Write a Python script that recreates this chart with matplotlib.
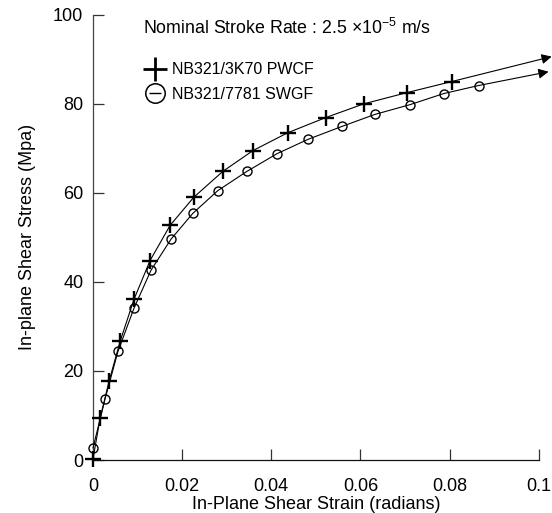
import matplotlib.pyplot as plt
from matplotlib.lines import Line2D
from matplotlib.legend_handler import HandlerTuple

plt.rcParams['font.family'] = ['Liberation Sans', 'DejaVu Sans']
plt.rcParams['mathtext.fontset'] = 'custom'
plt.rcParams['mathtext.rm'] = 'Liberation Sans'

# PWCF (crosses)
pwcf_strain = [0.0, 0.0016, 0.0036, 0.0061, 0.0092, 0.0128, 0.0173, 0.0226,
               0.0291, 0.0359, 0.0437, 0.0522, 0.0608, 0.0704, 0.0805]
pwcf_stress = [0.3, 9.4, 17.7, 26.7, 36.1, 44.8, 52.7, 59.0,
               64.8, 69.5, 73.5, 76.9, 80.0, 82.5, 85.0]
pwcf_arrow_end = (0.1029, 90.6)

# SWGF (circles)
swgf_strain = [0.0, 0.0027, 0.0056, 0.0092, 0.013, 0.0175, 0.0224, 0.028,
               0.0345, 0.0413, 0.0482, 0.0558, 0.0632, 0.0711, 0.0787, 0.0865]
swgf_stress = [2.7, 13.7, 24.4, 34.1, 42.6, 49.6, 55.4, 60.5,
               64.8, 68.8, 72.0, 74.9, 77.6, 79.8, 82.3, 84.1]
swgf_arrow_end = (0.1022, 87.2)

fig = plt.figure(figsize=(5.52, 5.13), dpi=100)
ax = fig.add_axes([0.1685, 0.1033, 0.8075, 0.868])

ax.plot(pwcf_strain, pwcf_stress, color='k', lw=0.8, marker='+', ms=11, mew=1.7,
        clip_on=False, zorder=3)
ax.plot(swgf_strain, swgf_stress, color='k', lw=0.8, marker='o', ms=6.5, mew=1.0,
        mfc='none', clip_on=False, zorder=3)

# arrows carrying the curves past the axis end
for xs, ys, end in [(pwcf_strain, pwcf_stress, pwcf_arrow_end),
                    (swgf_strain, swgf_stress, swgf_arrow_end)]:
    ann = ax.annotate('', xy=end, xytext=(xs[-1], ys[-1]),
                      arrowprops=dict(arrowstyle='-|>', color='k', lw=0.8,
                                      mutation_scale=15, shrinkA=0, shrinkB=0))
    ann.set_annotation_clip(False)

ax.set_xlim(0, 0.1)
ax.set_ylim(0, 100)
ax.set_xticks([0, 0.02, 0.04, 0.06, 0.08, 0.1])
ax.set_xticklabels(['0', '0.02', '0.04', '0.06', '0.08', '0.1'])
ax.set_yticks([0, 20, 40, 60, 80, 100])

for side in ['top', 'right']:
    ax.spines[side].set_visible(False)
ax.spines['left'].set_color('#444444')
ax.spines['bottom'].set_color('#111111')
for side in ['left', 'bottom']:
    ax.spines[side].set_linewidth(0.9)
ax.tick_params(direction='in', length=8, width=0.9, color='#333333', labelsize=13)
ax.tick_params(axis='x', pad=13)
ax.tick_params(axis='y', pad=7)

ax.set_xlabel('In-Plane Shear Strain (radians)', fontsize=13, labelpad=1)
ax.set_ylabel('In-plane Shear Stress (Mpa)', fontsize=13, labelpad=12)

ax.text(0.113, 0.971, r'Nominal Stroke Rate : 2.5 ×10$^{\mathrm{-5}}$ m/s',
        transform=ax.transAxes, fontsize=12.8, va='center', ha='left')

h_plus = Line2D([], [], color='k', marker='+', ms=17, mew=2, linestyle='none')
h_circ = Line2D([], [], color='k', marker='o', ms=14, mew=1.1, mfc='white',
                linestyle='none')
h_bar = Line2D([], [], color='k', marker='_', ms=9, mew=1.0, linestyle='none')
ax.legend([h_plus, (h_circ, h_bar)], ['NB321/3K70 PWCF', 'NB321/7781 SWGF'],
          handler_map={tuple: HandlerTuple(ndivide=1)},
          loc='upper left', bbox_to_anchor=(0.085, 0.925), frameon=False,
          fontsize=11.5, handlelength=1.2, handletextpad=0.45, labelspacing=0.6)

fig.savefig('out.png', dpi=100)
